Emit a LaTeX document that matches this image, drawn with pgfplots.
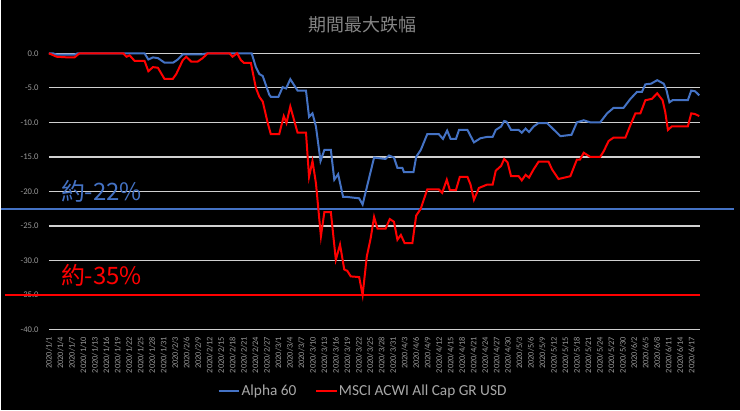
\documentclass[border=0pt]{standalone}
\usepackage{fontspec}
\setmainfont{Carlito}
\newfontfamily\cjk{Noto Sans CJK TC}
\usepackage{pgfplots}
\pgfplotsset{compat=1.18}
\definecolor{alpha}{HTML}{4472C4}
\definecolor{msci}{HTML}{FF0000}
\definecolor{gridc}{HTML}{D0D0D0}
\definecolor{tickc}{HTML}{9A9A9A}
\definecolor{titlec}{HTML}{858585}
\definecolor{legc}{HTML}{A8A8A8}
\begin{document}
\begin{tikzpicture}[x=0.75pt,y=0.75pt]
\fill[black] (0,0) rectangle (740,411);
\begin{axis}[
  at={(36pt,60.75pt)}, anchor=south west,
  scale only axis, width=489pt, height=207.5pt,
  xmin=0, xmax=170.2, ymin=-40, ymax=0,
  clip=false,
  axis line style={draw=none},
  major tick length=0pt,
  ymajorgrids=true,
  grid style={gridc, line width=1pt},
  ytick={0,-5,...,-40},
  yticklabel={\pgfmathprintnumber[fixed,fixed zerofill,precision=1]{\tick}},
  /pgf/number format/assume math mode=true,
  yticklabel style={font=\fontsize{6.5}{7}\selectfont, text=tickc, inner sep=0pt, anchor=east},
  yticklabel shift=7.5pt,
  xtick={0,3,...,168},
  xticklabels={2020/1/1,2020/1/4,2020/1/7,2020/1/10,2020/1/13,2020/1/16,2020/1/19,2020/1/22,2020/1/25,2020/1/28,2020/1/31,
    2020/2/3,2020/2/6,2020/2/9,2020/2/12,2020/2/15,2020/2/18,2020/2/21,2020/2/24,2020/2/27,
    2020/3/1,2020/3/4,2020/3/7,2020/3/10,2020/3/13,2020/3/16,2020/3/19,2020/3/22,2020/3/25,2020/3/28,2020/3/31,
    2020/4/3,2020/4/6,2020/4/9,2020/4/12,2020/4/15,2020/4/18,2020/4/21,2020/4/24,2020/4/27,2020/4/30,
    2020/5/3,2020/5/6,2020/5/9,2020/5/12,2020/5/15,2020/5/18,2020/5/21,2020/5/24,2020/5/27,2020/5/30,
    2020/6/2,2020/6/5,2020/6/8,2020/6/11,2020/6/14,2020/6/17},
  xticklabel style={rotate=90, anchor=east, font=\fontsize{6.3}{7}\selectfont, text=tickc, inner sep=0pt},
  xticklabel shift=5.25pt,
  legend columns=2,
  legend style={at={(0.482,-0.224)}, anchor=center, draw=none, fill=none,
    text=legc, font=\fontsize{11.5}{12}\selectfont,
    /tikz/every even column/.append style={column sep=13pt},
    nodes={inner sep=1pt}},
  legend image code/.code={\draw[#1] (0pt,0pt) -- (15.5pt,0pt);},
]
% reference lines
\addplot[alpha, line width=1.6pt, forget plot] coordinates {(-12.5,-22.6) (179.1,-22.6)};
\addplot[msci, line width=1.6pt, forget plot] coordinates {(-11.5,-35) (170.2,-35)};

\addplot[alpha, line width=1.5pt] coordinates {
(0,0) (1,0) (2,-0.2) (6.7,-0.2) (7.5,0) (25,0) (26,-0.9) (27.2,-0.6) (28.5,-0.7)
(30.2,-1.35) (32.5,-1.35) (33.7,-0.9) (35,-0.15) (40,-0.15) (41.5,0) (53,0)
(54.1,-2) (55,-3) (55.9,-3.3) (57.6,-6) (58,-6.3) (60,-6.3) (61.1,-4.9) (62,-5.1)
(63.1,-3.75) (65,-5.4) (67.2,-5.4) (68,-9.2) (68.9,-8.7) (69.8,-10.6) (71,-15.6)
(72,-14) (73.7,-14) (74.6,-18.3) (75.6,-17.5) (76.9,-20.8) (78,-20.8) (81.1,-21)
(82,-21.9) (83.5,-18.5) (85,-15.1) (88,-15.3) (88.9,-14.8) (90.2,-15.1) (91.1,-16.6)
(92.4,-16.6) (92.8,-17.2) (95.3,-17.2) (96,-15) (97.2,-14) (98.9,-11.7) (101.9,-11.7)
(103,-12.4) (104.1,-11.2) (105,-12.4) (106.4,-12.4) (107.2,-11.1) (109.4,-11.1)
(111.1,-12.9) (112.8,-12.3) (114.6,-12.1) (116,-12.1) (116.8,-11.1) (118.2,-10.6)
(119,-9.8) (119.6,-9.9) (120.8,-11.1) (122.8,-11.1) (123.6,-11.5) (124.6,-10.9)
(125.5,-11.4) (126.7,-10.6) (128,-10.1) (130.2,-10.1) (131.5,-10.8) (133.7,-12)
(136.6,-11.8) (138,-10) (139.8,-9.7) (141.5,-10) (144.1,-10) (145.9,-8.7) (147.6,-7.9)
(150.2,-7.9) (152,-6.6) (153.7,-5.6) (155,-5.6) (155.9,-4.5) (157.4,-4.4) (159,-3.9)
(160.7,-4.4) (161.4,-5.3) (162.2,-7.1) (163,-6.8) (167,-6.8) (167.9,-5.4) (168.9,-5.5)
(170,-6.1)
};
\addlegendentry{Alpha 60}
\addplot[msci, line width=1.5pt] coordinates {
(0,0) (2,-0.5) (5,-0.6) (6.7,-0.6) (8,0) (19.4,0) (20.3,-0.5) (21.1,-0.3) (22.4,-1.1)
(25,-1.1) (26,-2.6) (27.2,-2) (28.5,-2.1) (30.2,-3.7) (32.4,-3.7) (33.3,-3) (35,-1)
(35.9,-0.5) (37.2,-1.2) (38.9,-1.2) (40.2,-0.7) (41.5,0) (47.2,0) (48,-0.5) (49.2,0)
(50.2,-1) (51,-1.4) (52.8,-1.4) (54.1,-5) (55,-6.3) (55.9,-7) (57.2,-10.1) (58,-11.7)
(60.2,-11.7) (61.4,-9.1) (62.1,-10.1) (63.1,-7.7) (65,-11.5) (67.2,-11.5) (68,-17.9)
(68.9,-15.6) (69.8,-18.8) (71.1,-26.5) (72,-23) (73.7,-23) (75,-29.9) (76.1,-27.7)
(77.2,-31.3) (78,-31.5) (78.9,-32.3) (81.1,-32.4) (82,-35) (83.1,-29.4) (84.1,-26.8)
(85,-23.7) (85.9,-25.4) (88,-25.4) (89.1,-24) (90.2,-24.4) (91.1,-27) (92,-26.3)
(93,-27.5) (95,-27.5) (96,-23.5) (97.2,-22.5) (98.9,-19.7) (101.9,-19.7) (102.8,-20.2)
(104,-18.3) (104.8,-19.8) (106.4,-19.8) (107.4,-17.9) (109.4,-17.9) (110.2,-19)
(111.1,-21.2) (112.4,-19.5) (114.6,-19) (116,-19) (116.8,-17) (118.2,-16.3) (119,-15.3)
(119.9,-15.8) (120.8,-17.8) (122.8,-17.8) (123.6,-18.4) (124.6,-17.6) (125.5,-18)
(126.7,-16.8) (128,-15.7) (130.6,-15.7) (131.5,-16.8) (133.2,-18.2) (136.3,-17.8)
(138,-15.4) (138.8,-15.4) (139.8,-14.4) (141.5,-15) (144.1,-15) (145,-14.2) (146.3,-12.7)
(147.6,-12.2) (150.7,-12.2) (152,-10.4) (153.3,-8.7) (154.6,-8.7) (155.9,-6.8)
(157.6,-6.6) (159,-5.8) (160.4,-6.8) (161.1,-8.5) (161.8,-11.1) (162.8,-10.6)
(167,-10.6) (167.9,-8.7) (168.9,-8.8) (170,-9.1)
};
\addlegendentry{MSCI ACWI All Cap GR USD}

\node[anchor=center, inner sep=0pt, text=titlec, font=\cjk\fontsize{13.5}{14}\selectfont] at (rel axis cs:0.4816,1.102) {期間最大跌幅};
\node[anchor=west, inner sep=0pt, text=alpha, font=\cjk\fontsize{18}{19}\selectfont] at (axis cs:3.1,-20) {約-22\%};
\node[anchor=west, inner sep=0pt, text=msci, font=\cjk\fontsize{18}{19}\selectfont] at (axis cs:3.1,-32.2) {約-35\%};
\end{axis}
\end{tikzpicture}
\end{document}
